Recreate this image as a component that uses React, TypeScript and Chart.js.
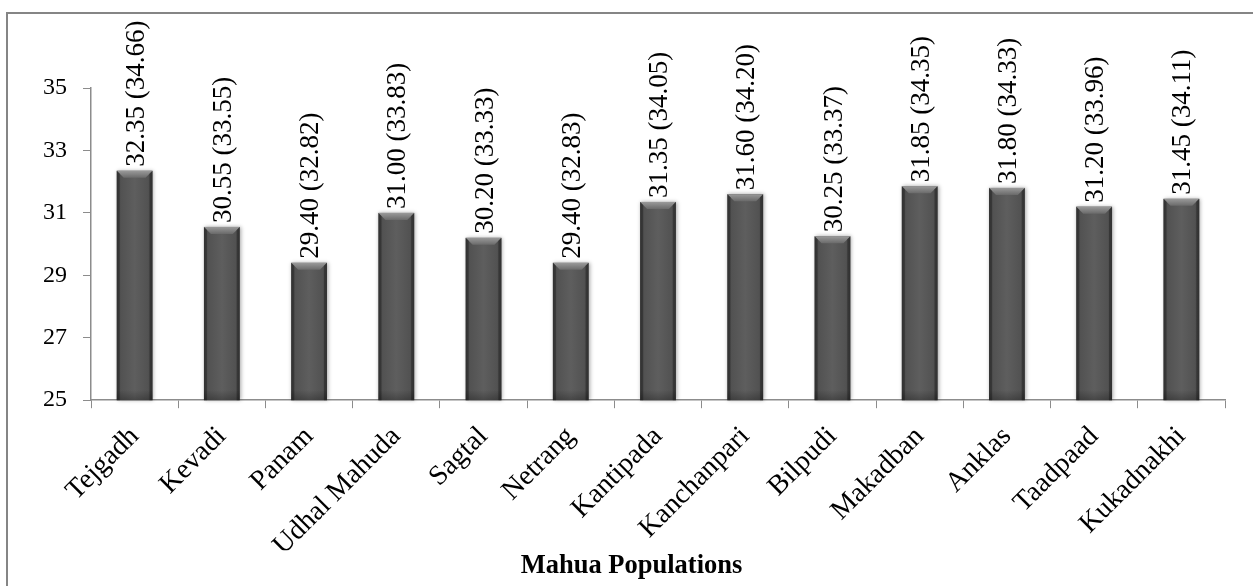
import React, { useEffect, useRef } from "react";
import { Chart, registerables } from "chart.js";

Chart.register(...registerables);

const categories = [
  "Tejgadh", "Kevadi", "Panam", "Udhal Mahuda", "Sagtal", "Netrang", "Kantipada",
  "Kanchanpari", "Bilpudi", "Makadban", "Anklas", "Taadpaad", "Kukadnakhi",
];
const meanValues = [32.35, 30.55, 29.4, 31.0, 30.2, 29.4, 31.35, 31.6, 30.25, 31.85, 31.8, 31.2, 31.45];
const maxValues = [34.66, 33.55, 32.82, 33.83, 33.33, 32.83, 34.05, 34.2, 33.37, 34.35, 34.33, 33.96, 34.11];
const yMin = 25;
const yMax = 35;
const yStep = 2;
const xTitle = "Mahua Populations";

const SERIF = "'Liberation Serif', 'Times New Roman', serif";

const barStylePlugin = {
  id: "barStyle",
  afterDatasetsDraw(chart: any) {
    const ctx = chart.ctx;
    const area = chart.chartArea;
    const meta = chart.getDatasetMeta(0);
    meta.data.forEach((bar: any, i: number) => {
      const { x, y, width } = bar.getProps(["x", "y", "width"], true);
      const l = x - width / 2;
      const r = x + width / 2;
      const t = y;
      const b = area.bottom;
      ctx.save();
      ctx.shadowColor = "rgba(0,0,0,0.35)";
      ctx.shadowBlur = 4;
      ctx.shadowOffsetX = 1;
      const g = ctx.createLinearGradient(l, 0, r, 0);
      g.addColorStop(0, "#3e3e3e");
      g.addColorStop(0.12, "#525252");
      g.addColorStop(0.5, "#5e5e5e");
      g.addColorStop(0.88, "#525252");
      g.addColorStop(1, "#3e3e3e");
      ctx.fillStyle = g;
      ctx.fillRect(l, t, width, b - t);
      ctx.restore();
      ctx.save();
      const bv = 7;
      const gt = ctx.createLinearGradient(0, t, 0, t + bv);
      gt.addColorStop(0, "#9a9a9a");
      gt.addColorStop(1, "#6a6a6a");
      ctx.fillStyle = gt;
      ctx.beginPath();
      ctx.moveTo(l, t);
      ctx.lineTo(r, t);
      ctx.lineTo(r - bv, t + bv);
      ctx.lineTo(l + bv, t + bv);
      ctx.closePath();
      ctx.fill();
      ctx.fillStyle = "rgba(40,40,40,0.55)";
      ctx.beginPath();
      ctx.moveTo(l, t);
      ctx.lineTo(l + 3, t + 3);
      ctx.lineTo(l + 3, b);
      ctx.lineTo(l, b);
      ctx.closePath();
      ctx.fill();
      ctx.beginPath();
      ctx.moveTo(r, t);
      ctx.lineTo(r - 3, t + 3);
      ctx.lineTo(r - 3, b);
      ctx.lineTo(r, b);
      ctx.closePath();
      ctx.fill();
      const gb = ctx.createLinearGradient(0, b - 10, 0, b);
      gb.addColorStop(0, "rgba(0,0,0,0)");
      gb.addColorStop(1, "rgba(0,0,0,0.25)");
      ctx.fillStyle = gb;
      ctx.fillRect(l, b - 10, width, 10);
      ctx.restore();

      ctx.save();
      ctx.translate(x + 2, t - 4);
      ctx.rotate(-Math.PI / 2);
      ctx.font = `27px ${SERIF}`;
      ctx.fillStyle = "#000";
      ctx.textAlign = "left";
      ctx.textBaseline = "middle";
      ctx.fillText(`${meanValues[i].toFixed(2)} (${maxValues[i].toFixed(2)})`, 0, 0);
      ctx.restore();
    });
  },
};

export default function App() {
  const ref = useRef<HTMLCanvasElement>(null);
  useEffect(() => {
    document.body.style.overflow = "hidden";
    const chart = new Chart(ref.current as HTMLCanvasElement, {
      type: "bar",
      data: {
        labels: categories,
        datasets: [
          {
            data: meanValues,
            backgroundColor: "rgba(0,0,0,0)",
            barPercentage: 0.41,
            categoryPercentage: 1,
          },
        ],
      },
      options: {
        animation: false,
        responsive: false,
        maintainAspectRatio: false,
        layout: { padding: { left: 38, top: 88, right: 28, bottom: 0 } },
        plugins: {
          legend: { display: false },
          tooltip: { enabled: false },
          title: {
            display: true,
            text: xTitle,
            position: "bottom",
            color: "#000",
            font: { family: SERIF, size: 26.5, weight: "bold" },
            padding: { top: 0, bottom: 4 },
          },
        },
        scales: {
          x: {
            clip: false,
            afterFit: (s: any) => {
              s.height = 150;
            },
            grid: {
              offset: true,
              drawOnChartArea: false,
              tickLength: 8,
              color: "#8c8c8c",
            },
            border: { color: "#8c8c8c", width: 1.5 },
            ticks: {
              color: "#000",
              font: { family: SERIF, size: 28 },
              maxRotation: 45,
              minRotation: 45,
              padding: 12,
            },
          },
          y: {
            min: yMin,
            max: yMax,
            afterFit: (s: any) => {
              s.width = 53;
            },
            grid: {
              drawOnChartArea: false,
              tickLength: 8,
              color: "#8c8c8c",
            },
            border: { color: "#8c8c8c", width: 1.5 },
            ticks: {
              stepSize: yStep,
              color: "#000",
              font: { family: SERIF, size: 24 },
              padding: 16,
            },
          },
        },
      },
      plugins: [barStylePlugin],
    });
    return () => chart.destroy();
  }, []);
  return (
    <div style={{ position: "fixed", left: 0, top: 0, width: 1253, height: 586, background: "#fff" }}>
      <div
        style={{
          position: "absolute",
          left: 6,
          top: 12,
          width: 1300,
          height: 700,
          border: "2px solid #858585",
          boxSizing: "border-box",
        }}
      />
      <canvas ref={ref} width={1253} height={586} style={{ position: "absolute", left: 0, top: 0 }} />
    </div>
  );
}
